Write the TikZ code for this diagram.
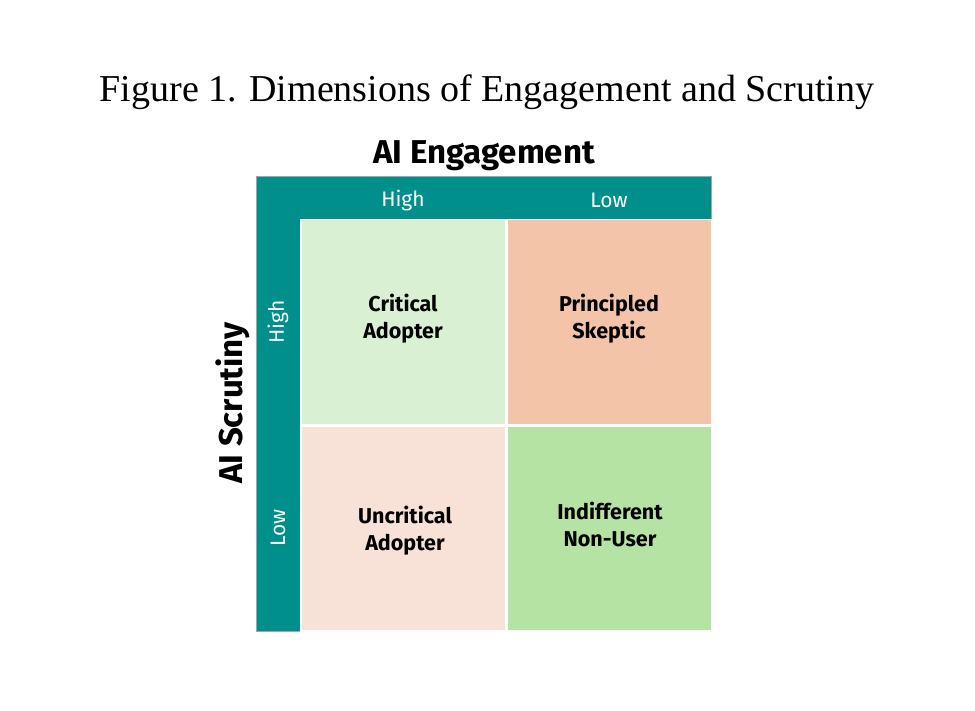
\documentclass[tikz,border=0pt]{standalone}
\usepackage{fontspec}
\setmainfont{Liberation Serif}
\setsansfont{Fira Sans}
\definecolor{teal1}{HTML}{008F8A}
\definecolor{cA}{HTML}{DAF0D3}
\definecolor{cB}{HTML}{F4C4A9}
\definecolor{cC}{HTML}{F8E1D6}
\definecolor{cD}{HTML}{B4E3A4}
\begin{document}
\begin{tikzpicture}[x=1pt,y=-1pt,
  cell/.style={draw=white,line width=1.5pt,minimum width=205pt,minimum height=205pt,anchor=north west,inner sep=0pt},
  lab/.style={font=\sffamily\bfseries\fontsize{21.5}{27}\selectfont,align=center},
  band/.style={font=\sffamily\fontsize{21}{22}\selectfont,text=white},
  axis/.style={font=\sffamily\bfseries\fontsize{33}{36}\selectfont}]
\useasboundingbox (0,0) rectangle (975,711);
\node (title) at (487,92) {\fontsize{38}{42}\selectfont Figure 1. Dimensions of Engagement and Scrutiny};
\node[axis] (eng) at (484,156) {AI Engagement};
\node[axis,rotate=90] (scr) at (233,403) {AI Scrutiny};
\fill[teal1] (256,176) rectangle (711,631);
\draw[gray!70,line width=0.8pt] (256,176) rectangle (711,631);
\node[cell,fill=cA] (ca) at (300,219) {};
\node[cell,fill=cB] (cb) at (506,219) {};
\node[cell,fill=cC] (cc) at (300,425) {};
\node[cell,fill=cD] (cd) at (506,425) {};
\node[lab] (ta) at (403,319) {Critical\\Adopter};
\node[lab] (tb) at (609,319) {Principled\\Skeptic};
\node[lab] (tc) at (405,531) {Uncritical\\Adopter};
\node[lab] (td) at (610,524) {Indifferent\\Non-User};
\node[band] (h1) at (403,201) {High};
\node[band] (l1) at (609,200) {Low};
\node[band,rotate=90] (h2) at (278,322) {High};
\node[band,rotate=90] (l2) at (278,528) {Low};
\end{tikzpicture}
\end{document}
